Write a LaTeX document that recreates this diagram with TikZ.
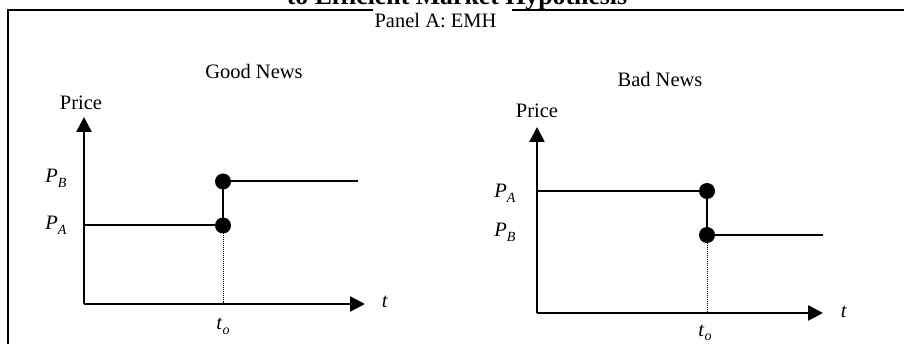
\documentclass[tikz,border=0pt]{standalone}
\usepackage{fontspec}
\setmainfont{Liberation Serif}
\usetikzlibrary{arrows.meta}
\newcommand{\symsub}[2]{\textit{#1}\raisebox{-0.2em}{\fontsize{14}{15}\selectfont\itshape #2}}
\begin{document}
\begin{tikzpicture}[x=1pt,y=-1pt,
  lbl/.style={anchor=base,inner sep=0pt,font=\fontsize{20.5}{24}\selectfont},
  axis/.style={line width=2.6pt,-{Triangle[length=15pt,width=15pt]}},
  stepline/.style={line width=2pt},
  guide/.style={line width=1pt,densely dotted},
  dot/.style={circle,fill=black,inner sep=0pt,minimum size=16pt},
  frame/.style={line width=2pt}]
\useasboundingbox (0,0) rectangle (904,344);
\clip (0,0) rectangle (904,344);
% frame
\draw[frame] (373,10) -- (8,10) -- (8,360);
\draw[frame] (512,10) -- (920,10);
% title and panel
\node[anchor=base,inner sep=0pt,font=\fontsize{25.8}{30}\selectfont\bfseries] (title) at (457,4.5) {to Efficient Market Hypothesis};
\node[lbl] (panel) at (435.5,28) {Panel A: EMH};
% ---------- Good news ----------
\coordinate (go) at (84,304);
\coordinate (gy) at (84,117);
\coordinate (gx) at (365,304);
\coordinate (gpa) at (84,225.5);
\coordinate (gend) at (358,181.5);
\coordinate (gfoot) at (223,304);
\node[lbl] (gtitle) at (254,79) {Good News};
\node[lbl] (gprice) at (81,110) {Price};
\draw[axis] (go) -- (gy);
\draw[axis] (go) -- (gx);
\node[dot] (ga) at (223,225.5) {};
\node[dot] (gb) at (223,181.5) {};
\draw[stepline] (gpa) -- (ga.center) -- (gb.center) -- (gend);
\draw[guide] (ga.center) -- (gfoot);
\node[lbl] (gPB) at (56,183) {\symsub{P}{B}};
\node[lbl] (gPA) at (56,230) {\symsub{P}{A}};
\node[lbl] (gt) at (385,308) {\textit{t}};
\node[lbl] (gto) at (223,330) {\symsub{t}{o}};
% ---------- Bad news ----------
\coordinate (bo) at (537,313);
\coordinate (by) at (537,127);
\coordinate (bx) at (823,313);
\coordinate (bpa) at (537,191);
\coordinate (bend) at (823,235);
\coordinate (bfoot) at (707,313);
\node[lbl] (btitle) at (660,87) {Bad News};
\node[lbl] (bprice) at (537,118) {Price};
\draw[axis] (bo) -- (by);
\draw[axis] (bo) -- (bx);
\node[dot] (ba) at (707,191) {};
\node[dot] (bb) at (707,235) {};
\draw[stepline] (bpa) -- (ba.center) -- (bb.center) -- (bend);
\draw[guide] (bb.center) -- (bfoot);
\node[lbl] (bPA) at (505,198) {\symsub{P}{A}};
\node[lbl] (bPB) at (505,237) {\symsub{P}{B}};
\node[lbl] (bt) at (844,317) {\textit{t}};
\node[lbl] (bto) at (705,336) {\symsub{t}{o}};
\end{tikzpicture}
\end{document}
